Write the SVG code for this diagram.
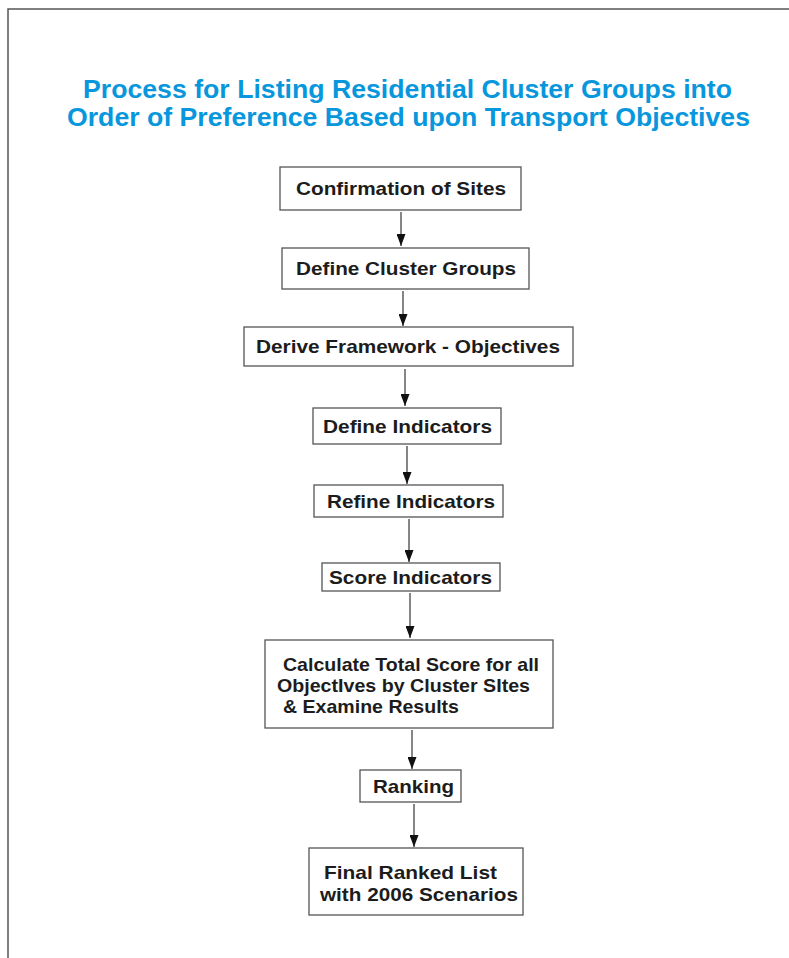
<svg xmlns="http://www.w3.org/2000/svg" width="789" height="958" viewBox="0 0 789 958">
<style>
.frame{stroke:#555;stroke-width:1.5;fill:none}
.box{fill:#fff;stroke:#555;stroke-width:1.3}
.lbl{font-family:"Liberation Sans",Arial,sans-serif;font-weight:bold;font-size:19px;fill:#1c1c1c}
.title{font-family:"Liberation Sans",Arial,sans-serif;font-weight:bold;font-size:25px;fill:#0897dc}
.conn line{stroke:#222;stroke-width:1.1;marker-end:url(#ah)}
</style>
<defs>
<marker id="ah" markerWidth="12" markerHeight="9" refX="12" refY="4.5" orient="auto" markerUnits="userSpaceOnUse">
<path d="M0,0 L12,4.5 L0,9 z" fill="#111"/>
</marker>
</defs>
<rect width="789" height="958" fill="#fff"/>
<path class="frame" d="M8,958 L8,9 L789,9"/>
<g id="title">
<text class="title" x="83" y="98" textLength="649" lengthAdjust="spacingAndGlyphs">Process for Listing Residential Cluster Groups into</text>
<text class="title" x="67" y="126" textLength="683" lengthAdjust="spacingAndGlyphs">Order of Preference Based upon Transport Objectives</text>
</g>
<g id="n1"><rect class="box" x="280" y="167" width="241" height="43"/><text class="lbl" x="296" y="195" textLength="210" lengthAdjust="spacingAndGlyphs">Confirmation of Sites</text></g>
<g id="n2"><rect class="box" x="282" y="248" width="247" height="41"/><text class="lbl" x="296" y="275" textLength="220" lengthAdjust="spacingAndGlyphs">Define Cluster Groups</text></g>
<g id="n3"><rect class="box" x="244" y="327" width="329" height="39"/><text class="lbl" x="256" y="353" textLength="304" lengthAdjust="spacingAndGlyphs">Derive Framework - Objectives</text></g>
<g id="n4"><rect class="box" x="313" y="408" width="188" height="36"/><text class="lbl" x="323" y="433" textLength="169" lengthAdjust="spacingAndGlyphs">Define Indicators</text></g>
<g id="n5"><rect class="box" x="314" y="485" width="189" height="32"/><text class="lbl" x="327" y="508" textLength="168" lengthAdjust="spacingAndGlyphs">Refine Indicators</text></g>
<g id="n6"><rect class="box" x="322" y="563" width="178" height="28"/><text class="lbl" x="329" y="584" textLength="163" lengthAdjust="spacingAndGlyphs">Score Indicators</text></g>
<g id="n7"><rect class="box" x="265" y="640" width="288" height="88"/>
<text class="lbl" x="283" y="671" textLength="256" lengthAdjust="spacingAndGlyphs">Calculate Total Score for all</text>
<text class="lbl" x="277" y="692" textLength="253" lengthAdjust="spacingAndGlyphs">ObjectIves by Cluster SItes</text>
<text class="lbl" x="283" y="713" textLength="176" lengthAdjust="spacingAndGlyphs">&amp; Examine Results</text></g>
<g id="n8"><rect class="box" x="360" y="770" width="101" height="32"/><text class="lbl" x="373" y="793" textLength="81" lengthAdjust="spacingAndGlyphs">Ranking</text></g>
<g id="n9"><rect class="box" x="309" y="848" width="214" height="67"/>
<text class="lbl" x="324" y="879" textLength="173" lengthAdjust="spacingAndGlyphs">Final Ranked List</text>
<text class="lbl" x="320" y="901" textLength="198" lengthAdjust="spacingAndGlyphs">with 2006 Scenarios</text></g>
<g id="connectors" class="conn">
<line x1="401" y1="212" x2="401" y2="246"/>
<line x1="403" y1="291" x2="403" y2="326"/>
<line x1="405" y1="369" x2="405" y2="406"/>
<line x1="407" y1="446" x2="407" y2="484"/>
<line x1="409" y1="519" x2="409" y2="562"/>
<line x1="410" y1="593" x2="410" y2="638"/>
<line x1="412" y1="730" x2="412" y2="769"/>
<line x1="414" y1="804" x2="414" y2="847"/>
</g>
</svg>
